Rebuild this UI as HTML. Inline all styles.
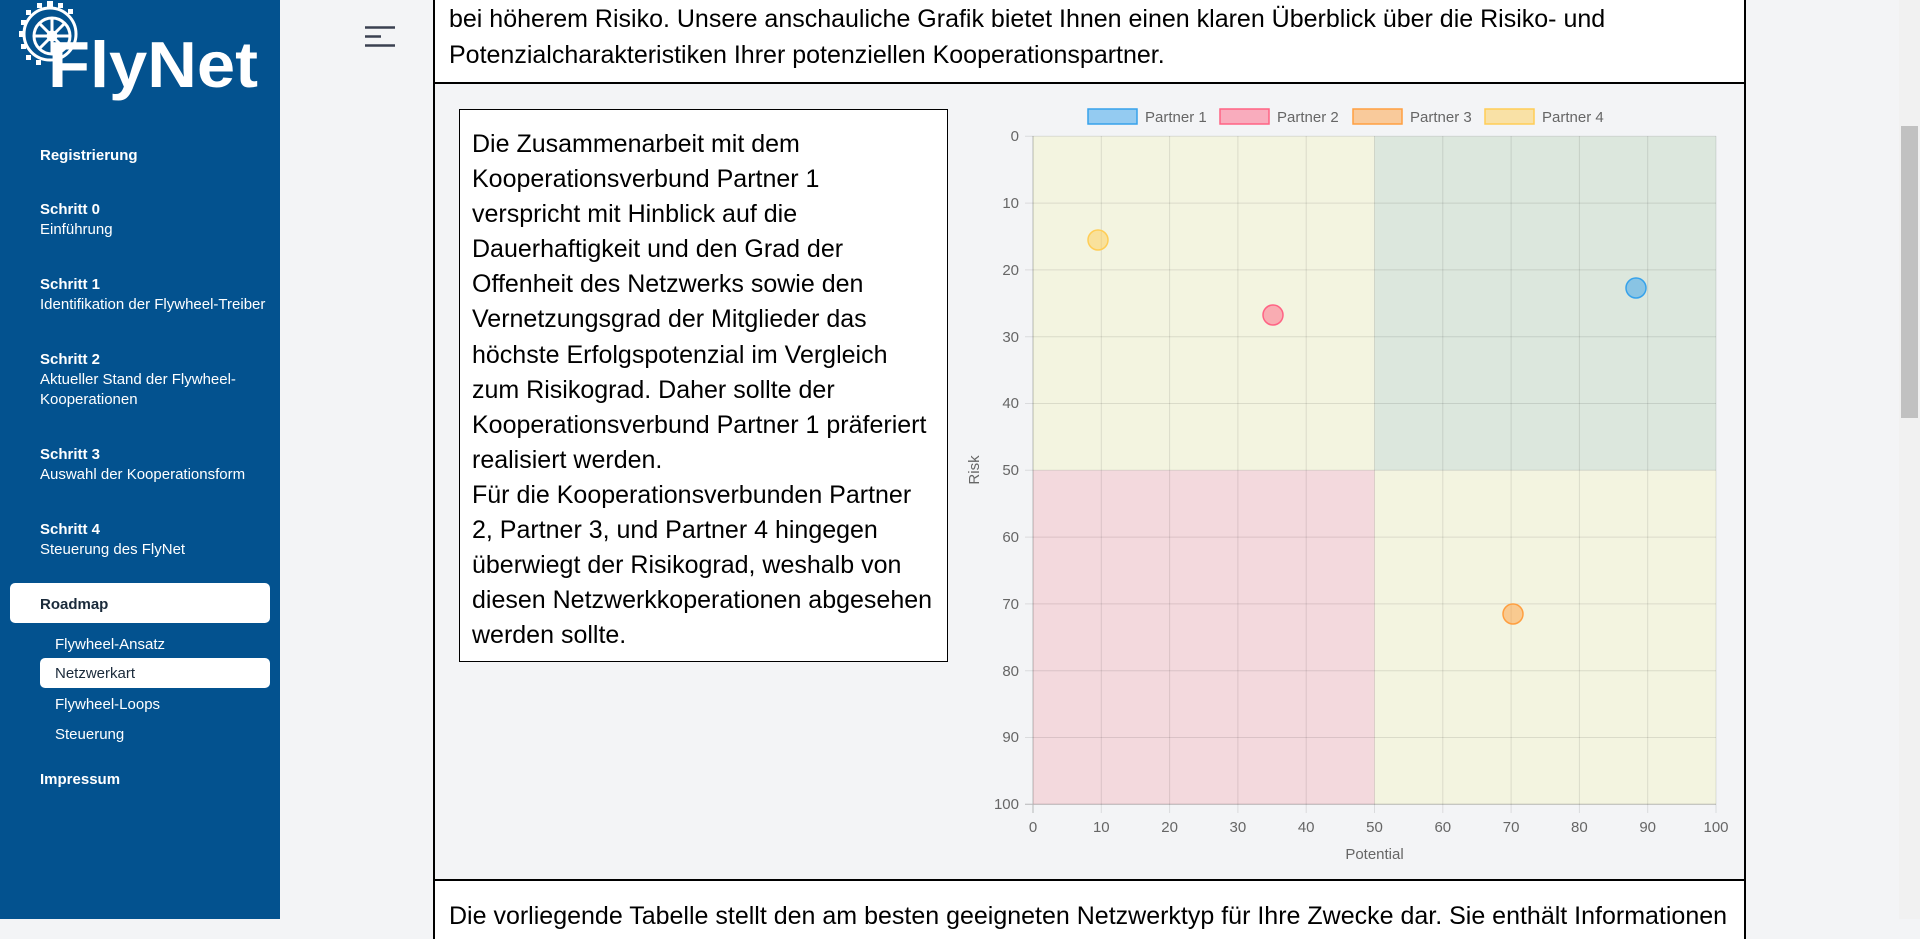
<!DOCTYPE html>
<html><head><meta charset="utf-8"><style>
*{margin:0;padding:0;box-sizing:border-box}
body{width:1920px;height:919px;overflow:hidden;background:#f3f4f6;font-family:"Liberation Sans",sans-serif;position:relative}
#side{position:absolute;left:0;top:0;width:280px;height:919px;background:#03528f;color:#fff}
.it{position:absolute;left:40px;font-size:15px;line-height:20px;color:#fff}
.it b{display:block}
.sub{left:55px}
.pill{position:absolute;background:#fff;border-radius:5px}
.ab{position:absolute}
#top{position:absolute;left:433px;top:-2px;width:1313px;height:86px;background:#fff;border:2px solid #000;border-top:none}
#top p{position:absolute;left:14px;top:3px;font-size:25px;line-height:36px;color:#000;white-space:nowrap}
#mid{position:absolute;left:433px;top:82px;width:1313px;height:800px;border-left:2px solid #000;border-right:2px solid #000}
#bot{position:absolute;left:433px;top:879px;width:1313px;height:60px;background:#fff;border:2px solid #000;border-bottom:none}
#bot p{position:absolute;left:14px;top:17px;font-size:25px;line-height:36px;white-space:nowrap}
#box{position:absolute;left:459px;top:109px;width:489px;height:553px;background:#fff;border:1px solid #000;padding:17px 6px 15px 12px;font-size:25px;line-height:35.1px;color:#000;white-space:nowrap}
#sb{position:absolute;left:1899px;top:0;width:21px;height:919px;background:#f1f1f1}
#th{position:absolute;left:1901px;top:126px;width:17px;height:292px;background:#c1c1c1}
</style></head><body>
<div id="side">
<svg class="ab" style="left:0;top:0" width="280" height="110">
<g fill="none" stroke="#fff" stroke-width="3">
<circle cx="50" cy="34" r="26"/><circle cx="52" cy="36" r="18"/><circle cx="52" cy="36" r="4"/>
<path d="M52 18v36M34 36h36M39 23l26 26M65 23l-26 26"/>
</g>
<g fill="#fff"><rect x="47" y="1" width="6" height="6"/><rect x="19" y="31" width="5" height="6"/><rect x="26" y="10" width="5" height="5"/><rect x="68" y="9" width="5" height="5"/><rect x="26" y="55" width="5" height="5"/><rect x="37" y="3" width="5" height="5"/><rect x="58" y="3" width="5" height="5"/><rect x="21" y="20" width="5" height="5"/><rect x="21" y="44" width="5" height="5"/><rect x="36" y="60" width="5" height="5"/></g>
<text x="48" y="87" font-family="Liberation Sans" font-weight="bold" font-size="65" fill="#fff" textLength="210" lengthAdjust="spacingAndGlyphs">FlyNet</text>
</svg>
<div class="it" style="top:146px"><b>Registrierung</b></div>
<div class="it" style="top:200px"><b>Schritt 0</b>Einführung</div>
<div class="it" style="top:275px"><b>Schritt 1</b>Identifikation der Flywheel-Treiber</div>
<div class="it" style="top:350px"><b>Schritt 2</b>Aktueller Stand der Flywheel-<br>Kooperationen</div>
<div class="it" style="top:445px"><b>Schritt 3</b>Auswahl der Kooperationsform</div>
<div class="it" style="top:520px"><b>Schritt 4</b>Steuerung des FlyNet</div>
<div class="pill" style="left:10px;top:583px;width:260px;height:40px"></div>
<div class="it" style="top:595px;color:#1a2a3a"><b>Roadmap</b></div>
<div class="it sub" style="top:635px">Flywheel-Ansatz</div>
<div class="pill" style="left:40px;top:658px;width:230px;height:30px"></div>
<div class="it sub" style="top:664px;color:#1a2a3a">Netzwerkart</div>
<div class="it sub" style="top:695px">Flywheel-Loops</div>
<div class="it sub" style="top:725px">Steuerung</div>
<div class="it" style="top:770px"><b>Impressum</b></div>
</div>
<svg class="ab" style="left:364px;top:24px" width="32" height="26"><g stroke="#3a4050" stroke-width="2.5"><path d="M1 3.5h30M1 12.5h16M1 21.5h30"/></g></svg>
<div id="top"><p>bei höherem Risiko. Unsere anschauliche Grafik bietet Ihnen einen klaren Überblick über die Risiko- und<br>Potenzialcharakteristiken Ihrer potenziellen Kooperationspartner.</p></div>
<div id="mid"></div>
<div id="bot"><p>Die vorliegende Tabelle stellt den am besten geeigneten Netzwerktyp für Ihre Zwecke dar. Sie enthält Informationen</p></div>
<div id="box">Die Zusammenarbeit mit dem<br>Kooperationsverbund Partner 1<br>verspricht mit Hinblick auf die<br>Dauerhaftigkeit und den Grad der<br>Offenheit des Netzwerks sowie den<br>Vernetzungsgrad der Mitglieder das<br>höchste Erfolgspotenzial im Vergleich<br>zum Risikograd. Daher sollte der<br>Kooperationsverbund Partner 1 präferiert<br>realisiert werden.<br>Für die Kooperationsverbunden Partner<br>2, Partner 3, und Partner 4 hingegen<br>überwiegt der Risikograd, weshalb von<br>diesen Netzwerkkoperationen abgesehen<br>werden sollte.</div>
<svg class="ab" style="left:0;top:0" width="1920" height="919" font-family="Liberation Sans" font-size="15" fill="#666">
<rect x="1033" y="136.3" width="341.5" height="334" fill="#f3f4e0"/>
<rect x="1374.5" y="136.3" width="341.5" height="334" fill="#dce7dd"/>
<rect x="1033" y="470.3" width="341.5" height="334" fill="#f3d9dd"/>
<rect x="1374.5" y="470.3" width="341.5" height="334" fill="#f3f4e0"/>
<g stroke="rgba(0,0,0,0.1)" stroke-width="1">
<path d="M1101.3 136v677M1169.6 136v677M1237.9 136v677M1306.2 136v677M1374.5 136v677M1442.8 136v677M1511.1 136v677M1579.4 136v677M1647.7 136v677M1716 136v677"/>
<path d="M1025 136.3h691M1025 203.1h691M1025 269.9h691M1025 336.7h691M1025 403.5h691M1025 470.3h691M1025 537.1h691M1025 603.9h691M1025 670.7h691M1025 737.5h691"/>
</g>
<g stroke="rgba(0,0,0,0.25)"><path d="M1033 136v677M1025 804.3h691"/></g>
<g text-anchor="end">
<text x="1019" y="141">0</text><text x="1019" y="208">10</text><text x="1019" y="275">20</text><text x="1019" y="342">30</text><text x="1019" y="408">40</text><text x="1019" y="475">50</text><text x="1019" y="542">60</text><text x="1019" y="609">70</text><text x="1019" y="676">80</text><text x="1019" y="742">90</text><text x="1019" y="809">100</text>
</g>
<g text-anchor="middle">
<text x="1033" y="832">0</text><text x="1101.3" y="832">10</text><text x="1169.6" y="832">20</text><text x="1237.9" y="832">30</text><text x="1306.2" y="832">40</text><text x="1374.5" y="832">50</text><text x="1442.8" y="832">60</text><text x="1511.1" y="832">70</text><text x="1579.4" y="832">80</text><text x="1647.7" y="832">90</text><text x="1716" y="832">100</text>
<text x="1374.5" y="859">Potential</text>
<text transform="translate(979,470) rotate(-90)">Risk</text>
</g>
<g stroke-width="1.5">
<rect x="1088" y="109" width="49" height="15" fill="rgba(54,162,235,0.5)" stroke="#36a2eb"/>
<rect x="1220" y="109" width="49" height="15" fill="rgba(255,99,132,0.5)" stroke="#ff6384"/>
<rect x="1353" y="109" width="49" height="15" fill="rgba(255,159,64,0.5)" stroke="#ff9f40"/>
<rect x="1485" y="109" width="49" height="15" fill="rgba(255,205,86,0.5)" stroke="#ffcd56"/>
<circle cx="1636" cy="288" r="10" fill="rgba(54,162,235,0.5)" stroke="#36a2eb"/>
<circle cx="1273" cy="315" r="10" fill="rgba(255,99,132,0.5)" stroke="#ff6384"/>
<circle cx="1513" cy="614" r="10" fill="rgba(255,159,64,0.5)" stroke="#ff9f40"/>
<circle cx="1098" cy="240" r="10" fill="rgba(255,205,86,0.5)" stroke="#ffcd56"/>
</g>
<text x="1145" y="122">Partner 1</text><text x="1277" y="122">Partner 2</text><text x="1410" y="122">Partner 3</text><text x="1542" y="122">Partner 4</text>
</svg>
<div id="sb"></div><div id="th"></div>
</body></html>
